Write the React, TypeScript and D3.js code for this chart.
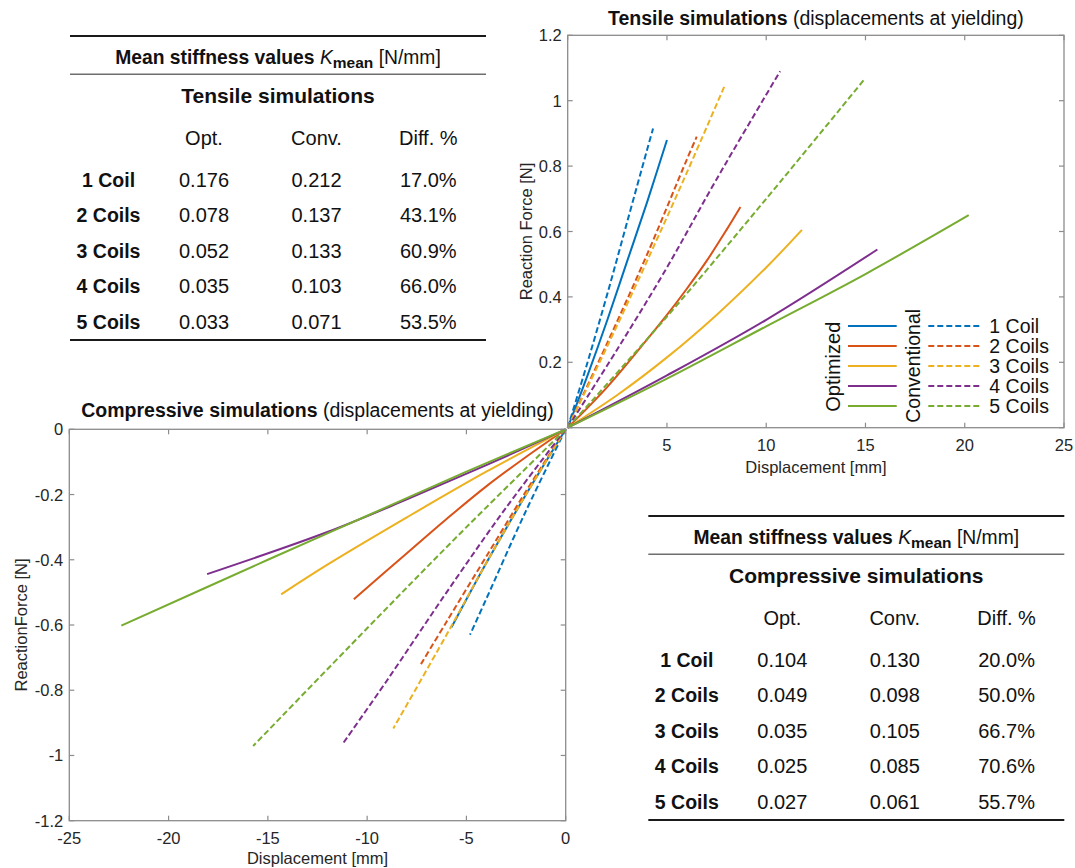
import React from "react";
import * as d3 from "d3";

// ---------- data ----------
const coilLabels = ["1 Coil", "2 Coils", "3 Coils", "4 Coils", "5 Coils"];
const seriesColors = ["#0072BD", "#D95319", "#EDB120", "#7E2F8E", "#77AC30"];

// Tensile curves: [displacement mm, reaction force N]
const tensileOpt1 = [[0, 0], [1, 0.16], [2, 0.33], [3, 0.51], [4, 0.69], [5, 0.88]];
const tensileOpt2 = [[0, 0], [2, 0.125], [4, 0.27], [5, 0.345], [6, 0.425], [7, 0.51], [8, 0.605], [8.7, 0.675]];
const tensileOpt3 = [[0, 0], [2.5, 0.1], [5, 0.215], [7.5, 0.345], [10, 0.49], [11.8, 0.605]];
const tensileOpt4 = [[0, 0], [5, 0.16], [10, 0.33], [15.6, 0.545]];
const tensileOpt5 = [[0, 0], [5, 0.15], [10, 0.31], [15, 0.47], [20.2, 0.65]];
const tensileConv1 = [[0, 0], [1, 0.2], [2, 0.41], [3, 0.63], [4, 0.85], [4.3, 0.915]];
const tensileConv2 = [[0, 0], [2, 0.26], [4, 0.53], [6, 0.82], [6.5, 0.89]];
const tensileConv3 = [[0, 0], [2, 0.25], [4, 0.51], [6, 0.78], [7.9, 1.045]];
const tensileConv4 = [[0, 0], [2.5, 0.24], [5, 0.49], [7.5, 0.76], [10.7, 1.09]];
const tensileConv5 = [[0, 0], [5, 0.34], [10, 0.7], [14.9, 1.062]];

// Compressive curves
const compOpt1 = [[0, 0], [-2, -0.2], [-4, -0.41], [-5.75, -0.607]];
const compOpt2 = [[0, 0], [-2, -0.085], [-4, -0.175], [-6, -0.275], [-8, -0.38], [-10.67, -0.521]];
const compOpt3 = [[0, 0], [-4, -0.13], [-8, -0.27], [-12, -0.415], [-14.33, -0.506]];
const compOpt4 = [[0, 0], [-4, -0.11], [-8, -0.215], [-12, -0.315], [-18.06, -0.444]];
const compOpt5 = [[0, 0], [-5, -0.13], [-10, -0.265], [-15, -0.4], [-22.38, -0.602]];
const compConv1 = [[0, 0], [-2, -0.25], [-4, -0.52], [-4.82, -0.63]];
const compConv2 = [[0, 0], [-2, -0.19], [-4, -0.39], [-6, -0.59], [-7.29, -0.72]];
const compConv3 = [[0, 0], [-2, -0.2], [-4, -0.41], [-6, -0.63], [-8.68, -0.917]];
const compConv4 = [[0, 0], [-3, -0.24], [-6, -0.5], [-9, -0.77], [-11.25, -0.966]];
const compConv5 = [[0, 0], [-5, -0.3], [-10, -0.61], [-15.74, -0.971]];

const tensileOptCurves = [tensileOpt1, tensileOpt2, tensileOpt3, tensileOpt4, tensileOpt5];
const tensileConvCurves = [tensileConv1, tensileConv2, tensileConv3, tensileConv4, tensileConv5];
const compOptCurves = [compOpt1, compOpt2, compOpt3, compOpt4, compOpt5];
const compConvCurves = [compConv1, compConv2, compConv3, compConv4, compConv5];

// Axis ticks
const tensileXTicks = [0, 5, 10, 15, 20, 25];
const tensileXLabels = [5, 10, 15, 20, 25];
const tensileYTicks = [0, 0.2, 0.4, 0.6, 0.8, 1, 1.2];
const tensileYLabels = [0.2, 0.4, 0.6, 0.8, 1, 1.2];
const compXTicks = [-25, -20, -15, -10, -5, 0];
const compYTicks = [-1.2, -1, -0.8, -0.6, -0.4, -0.2, 0];

// Tables
const tableColumns = ["Opt.", "Conv.", "Diff. %"];
const tensileOptK = ["0.176", "0.078", "0.052", "0.035", "0.033"];
const tensileConvK = ["0.212", "0.137", "0.133", "0.103", "0.071"];
const tensileDiff = ["17.0%", "43.1%", "60.9%", "66.0%", "53.5%"];
const compOptK = ["0.104", "0.049", "0.035", "0.025", "0.027"];
const compConvK = ["0.130", "0.098", "0.105", "0.085", "0.061"];
const compDiff = ["20.0%", "50.0%", "66.7%", "70.6%", "55.7%"];

// ---------- styles ----------
const FONT = "Helvetica, Arial, 'Liberation Sans', sans-serif";
const AXIS = "#8c8c8c";
const TXT = "#262626";
const fmt = (v: number) => String(+v.toFixed(2));

type Pt = number[];

function Panel(props: {
  xs: d3.ScaleLinear<number, number>;
  ys: d3.ScaleLinear<number, number>;
  xTicks: number[];
  yTicks: number[];
  xLabels: number[];
  yLabels: number[];
  opt: Pt[][];
  conv: Pt[][];
}) {
  const { xs, ys, xTicks, yTicks, xLabels, yLabels, opt, conv } = props;
  const [x0, x1] = xs.range();
  const [y0, y1] = ys.range(); // y0 bottom, y1 top
  const tl = 5;
  const line = d3
    .line<Pt>()
    .x((d) => xs(d[0]))
    .y((d) => ys(d[1]))
    .curve(d3.curveCatmullRom.alpha(0.5));
  return (
    <g>
      {opt.map((c, i) => (
        <path key={"o" + i} d={line(c) || ""} fill="none" stroke={seriesColors[i]} strokeWidth={2} />
      ))}
      {conv.map((c, i) => (
        <path
          key={"c" + i}
          d={line(c) || ""}
          fill="none"
          stroke={seriesColors[i]}
          strokeWidth={2}
          strokeDasharray="6,3"
        />
      ))}
      <rect x={x0} y={y1} width={x1 - x0} height={y0 - y1} fill="none" stroke={AXIS} strokeWidth={1.3} />
      {xTicks.map((t) => (
        <g key={"xt" + t}>
          <line x1={xs(t)} x2={xs(t)} y1={y0} y2={y0 - tl} stroke={AXIS} strokeWidth={1.2} />
          <line x1={xs(t)} x2={xs(t)} y1={y1} y2={y1 + tl} stroke={AXIS} strokeWidth={1.2} />
        </g>
      ))}
      {yTicks.map((t) => (
        <g key={"yt" + t}>
          <line x1={x0} x2={x0 + tl} y1={ys(t)} y2={ys(t)} stroke={AXIS} strokeWidth={1.2} />
          <line x1={x1} x2={x1 - tl} y1={ys(t)} y2={ys(t)} stroke={AXIS} strokeWidth={1.2} />
        </g>
      ))}
      {xLabels.map((t) => (
        <text
          key={"xl" + t}
          x={xs(t)}
          y={y0 + 17}
          textAnchor="middle"
          dominantBaseline="central"
          fontSize={16.5}
          fill={TXT}
        >
          {fmt(t)}
        </text>
      ))}
      {yLabels.map((t) => (
        <text
          key={"yl" + t}
          x={x0 - 6}
          y={ys(t)}
          textAnchor="end"
          dominantBaseline="central"
          fontSize={16.5}
          fill={TXT}
        >
          {fmt(t)}
        </text>
      ))}
    </g>
  );
}

function StiffTable(props: { x0: number; y0: number; subtitle: string; opt: string[]; conv: string[]; diff: string[] }) {
  const { x0, y0, subtitle, opt, conv, diff } = props;
  const w = 416;
  const cx = x0 + w / 2;
  const rowY = d3.scalePoint<string>().domain(coilLabels).range([y0 + 144, y0 + 285.7]);
  const colX = [x0 + 134, x0 + 246.5, x0 + 358.3];
  const cols = [opt, conv, diff];
  return (
    <g fill="#111">
      <line x1={x0} x2={x0 + w} y1={y0} y2={y0} stroke="#1a1a1a" strokeWidth={2.2} />
      <line x1={x0} x2={x0 + w} y1={y0 + 38.3} y2={y0 + 38.3} stroke="#6e6e6e" strokeWidth={1.6} />
      <line x1={x0} x2={x0 + w} y1={y0 + 304} y2={y0 + 304} stroke="#1a1a1a" strokeWidth={2.2} />
      <text x={cx} y={y0 + 21} textAnchor="middle" dominantBaseline="central" fontSize={19.3}>
        <tspan fontWeight={600}>Mean stiffness values </tspan>
        <tspan fontStyle="italic">K</tspan>
        <tspan fontWeight={600} fontSize={15.5} dy={5}>
          mean
        </tspan>
        <tspan dy={-5}> [N/mm]</tspan>
      </text>
      <text x={cx} y={y0 + 59} textAnchor="middle" dominantBaseline="central" fontSize={21} fontWeight="bold">
        {subtitle}
      </text>
      {tableColumns.map((c, j) => (
        <text key={c} x={colX[j]} y={y0 + 102} textAnchor="middle" dominantBaseline="central" fontSize={20}>
          {c}
        </text>
      ))}
      {coilLabels.map((c, i) => (
        <g key={c}>
          <text x={x0 + 38.5} y={rowY(c)} textAnchor="middle" dominantBaseline="central" fontSize={19.5} fontWeight="bold">
            {c}
          </text>
          {cols.map((col, j) => (
            <text key={j} x={colX[j]} y={rowY(c)} textAnchor="middle" dominantBaseline="central" fontSize={20}>
              {col[i]}
            </text>
          ))}
        </g>
      ))}
    </g>
  );
}

export default function App() {
  const xT = d3.scaleLinear().domain([0, 25]).range([567.7, 1064]);
  const yT = d3.scaleLinear().domain([0, 1.2]).range([427.7, 35.3]);
  const xC = d3.scaleLinear().domain([-25, 0]).range([69.3, 565.7]);
  const yC = d3.scaleLinear().domain([-1.2, 0]).range([820.7, 429.3]);

  const legRowY = d3.scalePoint<string>().domain(coilLabels).range([326, 406]);

  return (
    <svg
      width={1075}
      height={868}
      style={{ position: "absolute", left: 0, top: 0, background: "#fff" }}
      fontFamily={FONT}
    >
      <rect x={0} y={0} width={1075} height={868} fill="#fff" />
      <StiffTable x0={70} y0={36} subtitle="Tensile simulations" opt={tensileOptK} conv={tensileConvK} diff={tensileDiff} />
      <StiffTable x0={648.3} y0={516} subtitle="Compressive simulations" opt={compOptK} conv={compConvK} diff={compDiff} />

      <Panel
        xs={xT}
        ys={yT}
        xTicks={tensileXTicks}
        yTicks={tensileYTicks}
        xLabels={tensileXLabels}
        yLabels={tensileYLabels}
        opt={tensileOptCurves}
        conv={tensileConvCurves}
      />
      <Panel
        xs={xC}
        ys={yC}
        xTicks={compXTicks}
        yTicks={compYTicks}
        xLabels={compXTicks}
        yLabels={compYTicks}
        opt={compOptCurves}
        conv={compConvCurves}
      />

      {/* titles */}
      <text x={815.9} y={18} textAnchor="middle" dominantBaseline="central" fontSize={19.5} fill="#111">
        <tspan fontWeight="bold">Tensile simulations</tspan> (displacements at yielding)
      </text>
      <text x={317.5} y={410} textAnchor="middle" dominantBaseline="central" fontSize={19.5} fill="#111">
        <tspan fontWeight="bold">Compressive simulations</tspan> (displacements at yielding)
      </text>

      {/* axis labels */}
      <text x={815.9} y={467} textAnchor="middle" dominantBaseline="central" fontSize={16.5} fill={TXT}>
        Displacement [mm]
      </text>
      <text x={317.5} y={858} textAnchor="middle" dominantBaseline="central" fontSize={16.5} fill={TXT}>
        Displacement [mm]
      </text>
      <text
        transform={`translate(526,${(35.3 + 427.7) / 2}) rotate(-90)`}
        textAnchor="middle"
        dominantBaseline="central"
        fontSize={16.5}
        fill={TXT}
      >
        Reaction Force [N]
      </text>
      <text
        transform={`translate(21,${(429.3 + 820.7) / 2}) rotate(-90)`}
        textAnchor="middle"
        dominantBaseline="central"
        fontSize={16.5}
        fill={TXT}
      >
        ReactionForce [N]
      </text>

      {/* legend */}
      <text transform="translate(833.3,366.7) rotate(-90)" textAnchor="middle" dominantBaseline="central" fontSize={20} fill="#111">
        Optimized
      </text>
      <text transform="translate(913.3,365.8) rotate(-90)" textAnchor="middle" dominantBaseline="central" fontSize={19.5} fill="#111">
        Conventional
      </text>
      {coilLabels.map((c, i) => (
        <g key={c}>
          <line x1={848} x2={896.7} y1={legRowY(c)} y2={legRowY(c)} stroke={seriesColors[i]} strokeWidth={2.2} />
          <line
            x1={928.3}
            x2={981.7}
            y1={legRowY(c)}
            y2={legRowY(c)}
            stroke={seriesColors[i]}
            strokeWidth={2.2}
            strokeDasharray="6,3"
          />
          <text x={989.3} y={legRowY(c)} dominantBaseline="central" fontSize={19.5} fill="#111">
            {c}
          </text>
        </g>
      ))}
    </svg>
  );
}
